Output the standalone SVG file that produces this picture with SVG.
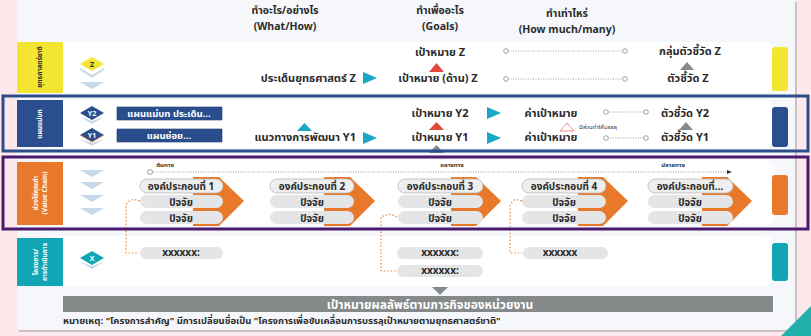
<svg xmlns="http://www.w3.org/2000/svg" width="811" height="336" viewBox="0 0 811 336">
<defs>
<style>
text{font-family:"Noto Sans Thai","Tahoma","Liberation Sans",sans-serif;fill:#2b2b2b;font-weight:bold}
.h{font-size:10.5px;text-anchor:middle}
.t{font-size:11px}
.m{text-anchor:middle}
.e{text-anchor:end}
.s{font-size:6px;font-weight:normal}
.p{font-size:10px;text-anchor:middle}
.pill{fill:#e4e5e7}
.pillh{fill:#eeeeee;stroke:#b9b9b9;stroke-width:0.8}
.dot{stroke:#8a8a8a;stroke-width:0.8;stroke-dasharray:1 1.5;fill:none}
.odot{stroke:#e8873a;stroke-width:1.2;stroke-dasharray:1.5 2;fill:none}
.circ{fill:#fff;stroke:#8a8a8a;stroke-width:0.8}
.chev{fill:#c9d8e7}
.orange{fill:#e8792a}
.teal{fill:#19a8c4}
.red{fill:#e2493b}
.gray{fill:#858989}
.row{fill:#ffffff}
.vt{font-size:6.5px;text-anchor:middle;fill:#fff}
</style>
</defs>
<rect width="811" height="336" fill="#fde9ec"/>
<rect x="19" y="2" width="778" height="330" fill="#9a9a9a" opacity="0.5"/>
<rect x="17" y="0" width="778" height="330" fill="#f5f7fa"/>
<polygon points="811,306 811,336 781,336" fill="#22b0ad"/>

<g id="header">
<text class="h" x="285" y="14">ทำอะไร/อย่างไร</text>
<text class="h" x="285" y="30">(What/How)</text>
<text class="h" x="440" y="14">ทำเพื่ออะไร</text>
<text class="h" x="440" y="30">(Goals)</text>
<text class="h" x="567" y="17">ทำเท่าไหร่</text>
<text class="h" x="567" y="33">(How much/many)</text>
</g>

<g id="row-z">
<rect class="row" x="40" y="42" width="735" height="51" rx="12"/>
<rect x="772" y="47" width="16" height="44" rx="3" fill="#f4e531"/>
<rect x="17" y="42" width="46" height="51" fill="#f4e531"/>
<text transform="translate(42,67) rotate(-90)" font-size="6.5" text-anchor="middle" style="fill:#2b2b2b">ยุทธศาสตร์ชาติ</text>
<polygon class="chev" points="80,68 92,75 104,68 104,70 92,78 80,70"/>
<polygon points="80,64 92,57 104,64 92,71" fill="#f4e531"/>
<text x="92" y="66.5" font-size="7" text-anchor="middle">Z</text>
<polygon class="chev" points="80,82 104,82 92,89"/>
</g>
<g id="z-goal"><text class="t m" x="440" y="56">เป้าหมาย Z</text></g>
<g id="z-strategy"><text class="t e" x="356" y="82">ประเด็นยุทธศาสตร์ Z</text></g>
<g id="z-goal-side"><text class="t m" x="438" y="82">เป้าหมาย (ด้าน) Z</text></g>
<g id="z-kpi-group"><text class="t m" x="690" y="55">กลุ่มตัวชี้วัด Z</text></g>
<g id="z-kpi"><text class="t m" x="688" y="82">ตัวชี้วัด Z</text></g>

<g id="row-y">
<rect class="row" x="40" y="100" width="735" height="48" rx="12"/>
<rect x="772" y="107" width="16" height="40" rx="3" fill="#2b4f8e"/>
<rect x="17" y="100" width="46" height="47" fill="#2b4f8e"/>
<text transform="translate(42,124) rotate(-90)" class="vt">แผนแม่บท</text>
<polygon class="chev" points="80,117 92,124 104,117 92,121"/>
<polygon points="80,113 92,106 104,113 92,120" fill="#2b4f8e"/>
<text x="92" y="116" font-size="7" text-anchor="middle" style="fill:#fff">Y2</text>
<polygon class="chev" points="80,139 92,146 104,139 92,143"/>
<polygon points="80,135 92,128 104,135 92,142" fill="#2b4f8e"/>
<line x1="80" y1="135" x2="92" y2="142" stroke="#e8873a" stroke-width="0.8"/>
<line x1="104" y1="135" x2="92" y2="142" stroke="#e8873a" stroke-width="0.8"/>
<text x="92" y="138" font-size="7" text-anchor="middle" style="fill:#fff">Y1</text>
</g>
<g id="y-master">
<rect x="117" y="107" width="105" height="13" fill="#2b4f8e" stroke="#1d3b70" stroke-width="0.6"/>
<text x="169" y="117" font-size="9.5" text-anchor="middle" style="fill:#fff">แผนแม่บท ประเด็น...</text>
</g>
<g id="y-sub">
<rect x="117" y="129" width="105" height="13" fill="#2b4f8e" stroke="#1d3b70" stroke-width="0.6"/>
<text x="169" y="139" font-size="9.5" text-anchor="middle" style="fill:#fff">แผนย่อย...</text>
</g>
<g id="y-guideline"><text class="t e" x="356" y="141">แนวทางการพัฒนา Y1</text></g>
<g id="y-goal2"><text class="t m" x="440" y="117">เป้าหมาย Y2</text></g>
<g id="y-goal1"><text class="t m" x="440" y="141">เป้าหมาย Y1</text></g>
<g id="y-target2"><text class="t m" x="551" y="117">ค่าเป้าหมาย</text></g>
<g id="y-target1"><text class="t m" x="551" y="141">ค่าเป้าหมาย</text></g>
<g id="y-kpi2"><text class="t m" x="685" y="117">ตัวชี้วัด Y2</text></g>
<g id="y-kpi1"><text class="t m" x="685" y="141">ตัวชี้วัด Y1</text></g>

<g id="row-vc">
<rect class="row" x="40" y="160" width="735" height="66" rx="12"/>
<rect x="772" y="175" width="16" height="40" rx="3" fill="#e8792a"/>
<rect x="17" y="162" width="46" height="63" fill="#e8792a"/>
<text transform="translate(38,193) rotate(-90)" class="vt">ห่วงโซ่คุณค่า</text>
<text transform="translate(47,193) rotate(-90)" class="vt">(Value Chain)</text>
<polygon class="chev" points="80,170 104,170 92,177"/>
<polygon class="chev" points="80,182 104,182 92,189"/>
<polygon class="chev" points="80,195 104,195 92,202"/>
<polygon class="chev" points="80,208 104,208 92,215"/>
<text x="165" y="167" font-size="6" text-anchor="middle" font-weight="normal">ต้นทาง</text>
<text x="452" y="167" font-size="6" text-anchor="middle" font-weight="normal">กลางทาง</text>
<text x="673" y="167" font-size="6" text-anchor="middle" font-weight="normal">ปลายทาง</text>
</g>

<g id="vc-1">
<polygon class="orange" points="193,177 219,177 244,201 219,226 193,226"/>
<rect class="pillh" x="140" y="179" width="83" height="14" rx="7"/>
<text class="p" x="181" y="190">องค์ประกอบที่ 1</text>
<rect class="pill" x="140" y="195" width="83" height="13" rx="6.5"/>
<text class="p" x="181" y="205.5">ปัจจัย</text>
<rect class="pill" x="140" y="211" width="83" height="13" rx="6.5"/>
<text class="p" x="181" y="221.5">ปัจจัย</text>
</g>
<g id="vc-2">
<polygon class="orange" points="324,177 350,177 375,201 350,226 324,226"/>
<rect class="pillh" x="270" y="179" width="84" height="14" rx="7"/>
<text class="p" x="312" y="190">องค์ประกอบที่ 2</text>
<rect class="pill" x="270" y="195" width="84" height="13" rx="6.5"/>
<text class="p" x="312" y="205.5">ปัจจัย</text>
<rect class="pill" x="270" y="211" width="84" height="13" rx="6.5"/>
<text class="p" x="312" y="221.5">ปัจจัย</text>
</g>
<g id="vc-3">
<polygon class="orange" points="451,177 476,177 501,201 476,226 451,226"/>
<rect class="pillh" x="398" y="179" width="85" height="14" rx="7"/>
<text class="p" x="440" y="190">องค์ประกอบที่ 3</text>
<rect class="pill" x="398" y="195" width="85" height="13" rx="6.5"/>
<text class="p" x="440" y="205.5">ปัจจัย</text>
<rect class="pill" x="398" y="211" width="85" height="13" rx="6.5"/>
<text class="p" x="440" y="221.5">ปัจจัย</text>
</g>
<g id="vc-4">
<polygon class="orange" points="578,177 603,177 628,201 603,226 578,226"/>
<rect class="pillh" x="522" y="179" width="84" height="14" rx="7"/>
<text class="p" x="564" y="190">องค์ประกอบที่ 4</text>
<rect class="pill" x="522" y="195" width="84" height="13" rx="6.5"/>
<text class="p" x="564" y="205.5">ปัจจัย</text>
<rect class="pill" x="522" y="211" width="84" height="13" rx="6.5"/>
<text class="p" x="564" y="221.5">ปัจจัย</text>
</g>
<g id="vc-5">
<polygon class="orange" points="702,177 727,177 752,201 727,226 702,226"/>
<rect class="pillh" x="648" y="179" width="85" height="14" rx="7"/>
<text class="p" x="690" y="190">องค์ประกอบที่...</text>
<rect class="pill" x="648" y="195" width="85" height="13" rx="6.5"/>
<text class="p" x="690" y="205.5">ปัจจัย</text>
<rect class="pill" x="648" y="211" width="85" height="13" rx="6.5"/>
<text class="p" x="690" y="221.5">ปัจจัย</text>
</g>

<g id="row-x">
<rect class="row" x="40" y="236" width="735" height="50" rx="12"/>
<rect x="772" y="243" width="16" height="38" rx="3" fill="#12a5b5"/>
<rect x="17" y="238" width="46" height="48" fill="#12a5b5"/>
<text transform="translate(38,262) rotate(-90)" class="vt">โครงการ/</text>
<text transform="translate(47,262) rotate(-90)" class="vt">การดำเนินการ</text>
<polygon class="chev" points="80,262 92,269 104,262 92,266"/>
<polygon points="80,258 92,251 104,258 92,265" fill="#12a5b5"/>
<text x="92" y="261" font-size="7" text-anchor="middle" style="fill:#fff">X</text>
</g>
<g id="x-1"><rect class="pill" x="140" y="247" width="83" height="12" rx="6"/><text class="p" x="181" y="256" font-size="9">xxxxxx:</text></g>
<g id="x-3a"><rect class="pill" x="397" y="247" width="86" height="12" rx="6"/><text class="p" x="440" y="256" font-size="9">xxxxxx:</text></g>
<g id="x-3b"><rect class="pill" x="397" y="265" width="86" height="12" rx="6"/><text class="p" x="440" y="274" font-size="9">xxxxxx:</text></g>
<g id="x-4"><rect class="pill" x="523" y="247" width="85" height="12" rx="6"/><text class="p" x="560" y="256" font-size="9">xxxxxx</text></g>

<g id="result">
<rect x="63" y="296" width="710" height="16" fill="#858989"/>
<text x="430" y="308.5" font-size="12" text-anchor="middle" style="fill:#fff">เป้าหมายผลลัพธ์ตามภารกิจของหน่วยงาน</text>
</g>
<g id="note"><text x="63" y="324" font-size="9.5" font-weight="normal">หมายเหตุ: "โครงการสำคัญ" มีการเปลี่ยนชื่อเป็น "โครงการเพื่อขับเคลื่อนการบรรลุเป้าหมายตามยุทธศาสตร์ชาติ"</text></g>

<g id="connectors">
<polygon class="red" points="429,72 444,72 436.5,63"/>
<polygon class="teal" points="363,72 377,78 363,84"/>
<line class="dot" x1="508" y1="51" x2="622" y2="51"/>
<circle class="circ" cx="506" cy="51" r="2.3"/><circle class="circ" cx="625" cy="51" r="2.3"/>
<line class="dot" x1="508" y1="79" x2="622" y2="79"/>
<circle class="circ" cx="506" cy="79" r="2.3"/><circle class="circ" cx="625" cy="79" r="2.3"/>
<polygon class="gray" points="680,70 694,70 687,62"/>

<polygon class="teal" points="297,131 312,131 304.5,123"/>
<polygon class="teal" points="363,132 377,138 363,144"/>
<polygon class="red" points="429,130 444,130 436.5,122"/>
<polygon class="gray" points="429,153 444,153 436.5,145"/>
<polygon class="teal" points="487,107 501,113 487,119"/>
<polygon class="teal" points="487,132 501,138 487,144"/>
<polygon points="560,131 574,131 567,123" fill="none" stroke="#e98585" stroke-width="0.9"/>
<text x="579" y="129" class="s">มีส่วนทำให้บรรลุ</text>
<line class="dot" x1="608" y1="112" x2="644" y2="112"/>
<circle class="circ" cx="606" cy="112" r="2.3"/><circle class="circ" cx="646" cy="112" r="2.3"/>
<line class="dot" x1="608" y1="138" x2="644" y2="138"/>
<circle class="circ" cx="606" cy="138" r="2.3"/><circle class="circ" cx="646" cy="138" r="2.3"/>
<polygon class="gray" points="679,130 693,130 686,122"/>

<line class="dot" x1="153" y1="172" x2="727" y2="172"/>
<circle class="circ" cx="150" cy="172" r="2.5"/>
<polygon points="727,170 732,172 727,174" fill="#333"/>

<path class="odot" d="M140,201 Q132,198 128,202 L126,205 L126,253 L139,253"/>
<path class="odot" d="M397,217 Q390,213 386,215 L381,217 L381,271 L396,271"/>
<path class="odot" d="M522,201 Q515,198 512,202 L510,205 L510,253 L522,253"/>

<polygon class="gray" points="432,287 448,287 440,295"/>
</g>

<rect x="3" y="96" width="805" height="55" fill="none" stroke="#2d4e8c" stroke-width="3"/>
<rect x="3" y="157" width="805" height="72" fill="none" stroke="#4b1a6e" stroke-width="3"/>
</svg>
